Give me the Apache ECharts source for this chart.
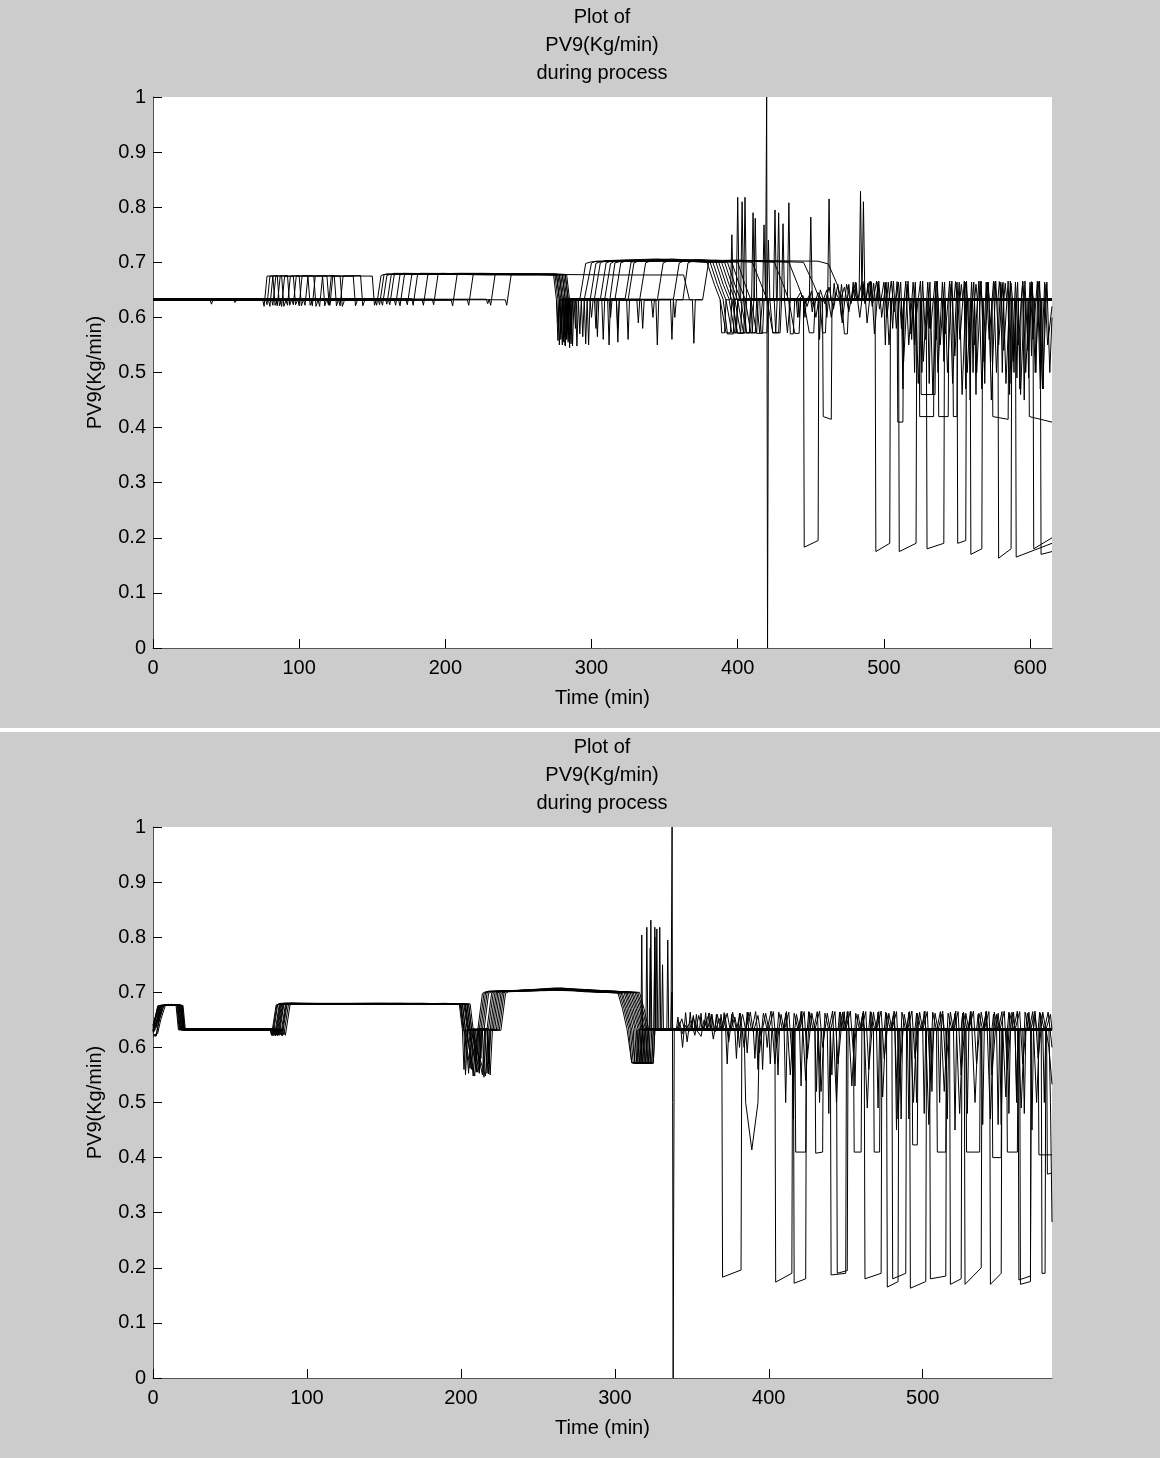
<!DOCTYPE html>
<html><head><meta charset="utf-8">
<script src="https://cdn.jsdelivr.net/npm/echarts@6/dist/echarts.min.js"></script>
<style>html,body{margin:0;padding:0;background:#fff}#c{width:1160px;height:1458px}</style>
</head><body><div id="c"></div>
<script>
// ---------- axis ranges / titles ----------
const topXRange = [0, 615];
const botXRange = [0, 584];
const yRange = [0, 1];
const titleLines = ['Plot of', 'PV9(Kg/min)', 'during process'];
const xName = 'Time (min)';
const yName = 'PV9(Kg/min)';

// ---------- top panel batches (time, PV9) ----------
const top01 = [[0,0.632],[39,0.632],[40,0.624],[41,0.632],[75,0.632],[76,0.62],[78,0.675],[82,0.675],[83.5,0.622],[85,0.632],[152,0.632],[153,0.622],[156,0.676],[158,0.678],[190,0.679],[230,0.677],[274,0.678],[276,0.632],[277,0.558],[278,0.632],[283,0.632],[284,0.575],[285,0.632],[292,0.633],[296,0.698],[300,0.701],[330,0.703],[355,0.704],[379,0.70],[384,0.66],[388,0.632],[392,0.572],[395,0.572],[396,0.632],[399,0.632],[400,0.818],[401,0.632],[409,0.632],[410,0.572],[412,0.572],[413,0.632],[445,0.632],[445.5,0.183],[455,0.195],[455.5,0.632],[488,0.632],[489,0.662],[490,0.632],[520,0.632],[521,0.55],[522,0.632],[548,0.632],[549,0.665],[550,0.632],[580,0.632],[581,0.5],[582,0.632],[600,0.632],[601,0.66],[602,0.632],[615,0.632]];
const top02 = [[0,0.633],[55,0.633],[56,0.627],[58,0.633],[77,0.633],[78,0.623],[80,0.675],[85,0.676],[86.5,0.621],[88,0.633],[154,0.633],[155,0.623],[158,0.677],[160,0.679],[200,0.678],[250,0.679],[275,0.677],[277,0.633],[278,0.55],[279,0.633],[282,0.633],[283,0.562],[284,0.633],[295,0.632],[300,0.699],[303,0.702],[340,0.705],[381,0.701],[386,0.66],[390,0.633],[393,0.57],[397,0.57],[398,0.633],[404,0.633],[405,0.818],[406,0.633],[415,0.633],[416,0.572],[420,0.572],[421,0.633],[458,0.633],[458.5,0.42],[464,0.415],[464.5,0.633],[495,0.633],[496,0.664],[497,0.633],[530,0.633],[531,0.58],[532,0.633],[559,0.633],[559.5,0.17],[567,0.18],[567.5,0.633],[590,0.633],[591,0.49],[592,0.633],[605,0.633],[606,0.665],[607,0.633],[615,0.633]];
const top03 = [[0,0.631],[79,0.631],[80,0.62],[82,0.675],[88,0.675],[89.5,0.62],[91,0.631],[156,0.631],[157,0.622],[160,0.676],[162,0.678],[210,0.68],[276,0.678],[278,0.631],[279,0.57],[280,0.631],[286,0.631],[287,0.548],[288,0.631],[299,0.631],[303,0.698],[306,0.701],[350,0.703],[383,0.70],[388,0.66],[392,0.631],[396,0.572],[399,0.572],[400,0.631],[409.5,0.631],[410.5,0.79],[411.5,0.631],[425,0.631],[426,0.572],[429,0.572],[430,0.631],[460,0.631],[461,0.6],[462,0.631],[494,0.631],[494.5,0.175],[504,0.19],[504.5,0.631],[515,0.631],[516,0.66],[517,0.631],[540,0.631],[541,0.52],[542,0.631],[570,0.631],[571,0.662],[572,0.631],[599,0.631],[599.5,0.42],[615,0.41]];
const top04 = [[0,0.634],[81,0.634],[82,0.622],[84,0.675],[92,0.676],[93.5,0.622],[95,0.634],[159,0.634],[160,0.624],[163,0.678],[165,0.68],[220,0.678],[276,0.679],[278,0.634],[279,0.56],[280,0.634],[288,0.634],[289,0.58],[290,0.634],[302,0.634],[306,0.699],[309,0.703],[345,0.706],[385,0.701],[390,0.66],[394,0.634],[398,0.572],[402,0.572],[403,0.634],[417,0.634],[418,0.768],[419,0.634],[440,0.634],[441,0.6],[442,0.634],[475,0.634],[476,0.66],[477,0.634],[509,0.634],[509.5,0.41],[513,0.41],[513.5,0.634],[535,0.634],[536,0.665],[537,0.634],[560,0.634],[561,0.5],[562,0.634],[580,0.634],[581,0.66],[582,0.634],[602,0.634],[602.5,0.18],[615,0.2]];
const top05 = [[0,0.632],[84,0.632],[85,0.621],[87,0.675],[96,0.675],[97.5,0.623],[99,0.632],[161,0.632],[162,0.623],[165,0.677],[167,0.679],[230,0.678],[277,0.678],[279,0.632],[280,0.55],[281,0.632],[291,0.632],[292,0.57],[293,0.632],[306,0.632],[310,0.699],[313,0.702],[360,0.703],[387,0.70],[392,0.66],[396,0.632],[400,0.571],[404,0.571],[405,0.632],[419,0.632],[419.8,1.0],[420.4,0.0],[421,0.632],[450,0.632],[451,0.61],[452,0.632],[480,0.632],[481,0.663],[482,0.632],[510,0.632],[510.5,0.175],[522,0.19],[522.5,0.632],[545,0.632],[546,0.66],[547,0.632],[568,0.632],[569,0.48],[570,0.632],[590,0.632],[590.5,0.165],[615,0.19]];
const top06 = [[0,0.633],[87,0.633],[88,0.62],[90,0.674],[100,0.676],[101.5,0.621],[103,0.633],[165,0.633],[166,0.622],[169,0.678],[171,0.68],[240,0.678],[278,0.677],[280,0.633],[281,0.565],[282,0.633],[295,0.633],[296,0.552],[297,0.633],[309,0.633],[313,0.698],[316,0.702],[370,0.704],[389,0.70],[394,0.66],[398,0.633],[402,0.572],[405,0.572],[406,0.633],[424.5,0.633],[425.5,0.795],[426.5,0.633],[435,0.633],[436,0.57],[438,0.57],[439,0.633],[470,0.633],[471,0.66],[472,0.633],[500,0.633],[501,0.55],[502,0.633],[524,0.633],[524.5,0.42],[534,0.42],[534.5,0.633],[555,0.633],[556,0.664],[557,0.633],[578,0.633],[578.5,0.163],[587,0.18],[587.5,0.633],[600,0.633],[601,0.53],[602,0.633],[615,0.633]];
const top07 = [[0,0.631],[91,0.631],[92,0.622],[94,0.675],[106,0.675],[107.5,0.622],[109,0.631],[168,0.631],[169,0.621],[172,0.677],[174,0.679],[225,0.68],[278,0.678],[280,0.631],[281,0.555],[282,0.631],[299,0.631],[300,0.6],[301,0.631],[312.5,0.631],[316,0.699],[319,0.701],[355,0.706],[391,0.70],[396,0.66],[400,0.631],[404,0.572],[408,0.572],[409,0.631],[427,0.631],[428,0.79],[429,0.631],[455,0.631],[456,0.56],[457,0.631],[490,0.631],[491,0.666],[492,0.631],[529,0.631],[529.5,0.18],[541,0.19],[541.5,0.631],[562,0.631],[563,0.66],[564,0.631],[585,0.631],[586,0.46],[587,0.631],[607,0.631],[607.5,0.17],[615,0.175]];
const top08 = [[0,0.632],[95,0.632],[96,0.623],[98,0.675],[110,0.675],[111.5,0.62],[113,0.632],[173,0.632],[174,0.623],[177,0.677],[179,0.679],[235,0.678],[279,0.677],[281,0.632],[282,0.548],[283,0.632],[303,0.632],[304,0.565],[305,0.632],[316,0.632],[320,0.699],[323,0.702],[365,0.703],[393,0.70],[398,0.66],[402,0.632],[406,0.572],[410,0.572],[411,0.632],[434,0.632],[435,0.808],[436,0.632],[465,0.632],[466,0.662],[467,0.632],[505,0.632],[506,0.58],[507,0.632],[547,0.632],[547.5,0.42],[550,0.42],[550.5,0.632],[575,0.632],[576,0.665],[577,0.632],[595,0.632],[596,0.45],[597,0.632],[610,0.632],[611,0.66],[612,0.632],[615,0.632]];
const top09 = [[0,0.634],[99,0.634],[100,0.621],[102,0.676],[116,0.675],[117.5,0.621],[119,0.634],[177,0.634],[178,0.622],[181,0.678],[183,0.68],[240,0.679],[280,0.678],[282,0.634],[283,0.57],[284,0.634],[311,0.634],[312,0.55],[313,0.634],[323,0.634],[327,0.7],[330,0.702],[375,0.705],[396,0.70],[401,0.66],[405,0.634],[409,0.572],[413,0.572],[414,0.634],[445,0.634],[446,0.6],[447,0.634],[485,0.634],[486,0.66],[487,0.634],[520,0.634],[521,0.5],[522,0.634],[550,0.634],[550.5,0.19],[556,0.195],[556.5,0.634],[574,0.634],[574.5,0.42],[585,0.415],[585.5,0.634],[600,0.634],[601,0.665],[602,0.634],[615,0.634]];
const top10 = [[0,0.632],[103,0.632],[104,0.622],[106,0.675],[119,0.675],[120.5,0.622],[122,0.632],[184,0.632],[185,0.622],[188,0.677],[190,0.679],[250,0.678],[281,0.678],[283,0.632],[284,0.555],[285,0.632],[317,0.632],[318,0.58],[319,0.632],[325,0.632],[329,0.699],[332,0.702],[380,0.703],[400,0.70],[405,0.66],[409,0.632],[413,0.571],[417,0.571],[418,0.632],[449,0.632],[450,0.782],[451,0.632],[478,0.632],[479,0.664],[480,0.632],[512,0.632],[513,0.47],[514,0.632],[525,0.632],[525.5,0.46],[535,0.46],[535.5,0.632],[552,0.632],[553,0.66],[554,0.632],[572,0.632],[573,0.52],[574,0.632],[594,0.632],[595,0.664],[596,0.632],[608,0.632],[609,0.47],[610,0.632],[615,0.632]];
const top11 = [[0,0.633],[108,0.633],[109,0.621],[111,0.675],[124,0.676],[125.5,0.621],[127,0.633],[191,0.633],[192,0.623],[195,0.678],[197,0.68],[250,0.677],[282,0.678],[284,0.633],[285,0.56],[286,0.633],[324,0.633],[325,0.56],[326,0.633],[333,0.633],[337,0.699],[340,0.702],[385,0.704],[410,0.70],[416,0.66],[420,0.633],[424,0.572],[428,0.572],[429,0.633],[461.5,0.633],[462.5,0.815],[463.5,0.633],[492,0.633],[493,0.662],[494,0.633],[518,0.633],[519,0.56],[520,0.633],[537,0.633],[537.5,0.42],[544,0.42],[544.5,0.633],[565,0.633],[566,0.665],[567,0.633],[588,0.633],[589,0.5],[590,0.633],[615,0.633]];
const top12 = [[0,0.631],[113,0.631],[114,0.62],[116,0.675],[128,0.675],[129.5,0.62],[131,0.631],[204,0.631],[205,0.621],[208,0.677],[210,0.679],[260,0.678],[283,0.677],[285,0.631],[286,0.552],[287,0.631],[334,0.631],[335,0.58],[336,0.631],[345,0.631],[349,0.699],[352,0.702],[400,0.703],[425,0.70],[431,0.66],[435,0.631],[439,0.571],[442,0.571],[443,0.631],[470,0.631],[471,0.6],[472,0.631],[483,0.631],[484,0.829],[485,0.631],[500,0.631],[501,0.663],[502,0.631],[530,0.631],[531,0.48],[532,0.631],[558,0.631],[559,0.45],[560,0.631],[582,0.631],[583,0.662],[584,0.631],[603,0.631],[604,0.5],[605,0.631],[615,0.631]];
const top13 = [[0,0.632],[120,0.632],[121,0.622],[123,0.675],[137,0.675],[138.5,0.621],[140,0.632],[215,0.632],[216,0.622],[219,0.677],[221,0.679],[270,0.678],[320,0.677],[363,0.677],[367,0.632],[369,0.632],[370,0.553],[371,0.632],[376,0.632],[380,0.699],[383,0.702],[410,0.703],[435,0.70],[441,0.66],[445,0.632],[449,0.572],[452,0.572],[453,0.632],[485,0.632],[486,0.81],[487,0.632],[508,0.632],[509,0.665],[510,0.632],[540,0.632],[541,0.55],[542,0.632],[570,0.632],[571,0.664],[572,0.632],[592,0.632],[593,0.47],[594,0.632],[615,0.632]];
const top14 = [[0,0.633],[119,0.633],[120,0.623],[122,0.675],[150,0.675],[151.5,0.622],[153,0.633],[228,0.633],[229,0.625],[230,0.633],[231,0.622],[234,0.677],[236,0.679],[280,0.678],[282,0.633],[283,0.56],[284,0.633],[344,0.633],[345,0.55],[346,0.633],[356,0.633],[360,0.699],[363,0.702],[400,0.704],[445,0.70],[452,0.66],[456,0.633],[458,0.572],[460,0.572],[461,0.633],[495,0.633],[496,0.66],[497,0.633],[525,0.633],[526,0.5],[527,0.633],[555,0.633],[556,0.47],[557,0.633],[578,0.633],[579,0.665],[580,0.633],[598,0.633],[599,0.49],[600,0.633],[615,0.633]];
const top15 = [[0,0.632],[127,0.632],[128,0.621],[130,0.675],[142,0.676],[143.5,0.621],[145,0.632],[241,0.632],[242,0.622],[245,0.677],[247,0.679],[282,0.678],[284,0.632],[285,0.545],[286,0.632],[354,0.632],[355,0.56],[356,0.632],[362.5,0.632],[366,0.699],[369,0.702],[420,0.703],[455,0.702],[462,0.697],[468,0.66],[471,0.632],[473,0.57],[475,0.57],[476,0.632],[502,0.632],[503,0.664],[504,0.632],[535,0.632],[536,0.56],[537,0.632],[562,0.632],[563,0.46],[564,0.632],[586,0.632],[587,0.662],[588,0.632],[606,0.632],[607,0.52],[608,0.632],[615,0.632]];
const topBurst = [[388,0.632],[389,0.572],[391,0.572],[392,0.632],[395,0.632],[396,0.75],[397,0.632],[398,0.632],[399,0.572],[400,0.632],[402,0.632],[403,0.81],[404,0.632],[406,0.572],[408,0.572],[409,0.632],[411,0.632],[412,0.78],[413,0.632],[415,0.572],[417,0.632],[420,0.632],[421,0.74],[422,0.632],[424,0.572],[426,0.572],[427,0.632],[430,0.632],[431,0.77],[432,0.632],[434,0.572],[436,0.632],[441,0.632],[442,0.6],[443,0.632]];
const topDips = [[276,0.632],[277,0.59],[278,0.632],[281,0.632],[282,0.55],[283,0.632],[285,0.632],[286,0.57],[287,0.632],[289,0.632],[290,0.548],[291,0.632],[293,0.632],[294,0.565],[295,0.632],[297,0.632],[298,0.55],[299,0.632],[302,0.632],[303,0.58],[304,0.632],[307,0.632],[308,0.56],[309,0.632],[312,0.632],[313,0.6],[314,0.632],[317,0.632],[318,0.555],[319,0.632],[331,0.632],[332,0.59],[333,0.632],[341,0.632],[342,0.6],[343,0.632],[356,0.632],[357,0.6],[358,0.632],[376,0.632]];
const topNoiseA = [[440,0.632],[443,0.645],[446,0.625],[449,0.64],[452,0.62],[455,0.645],[458,0.628],[461,0.65],[464,0.6],[467,0.645],[470,0.63],[473,0.655],[476,0.61],[479,0.655],[482,0.63],[485,0.664],[487,0.625],[490,0.665],[492,0.62],[495,0.666],[497,0.615],[500,0.664],[502,0.6],[505,0.666],[507,0.61],[510,0.664],[512,0.58],[515,0.666],[517,0.55],[520,0.664],[522,0.6],[525,0.666],[527,0.52],[530,0.664],[532,0.58],[535,0.666],[537,0.5],[540,0.664],[542,0.57],[545,0.666],[547,0.48],[550,0.664],[552,0.56],[555,0.666],[557,0.5],[560,0.664],[562,0.55],[565,0.666],[567,0.47],[570,0.664],[572,0.56],[575,0.666],[577,0.5],[580,0.664],[582,0.54],[585,0.666],[587,0.48],[590,0.664],[592,0.55],[595,0.666],[597,0.5],[600,0.664],[602,0.56],[605,0.666],[607,0.47],[610,0.664],[612,0.55],[615,0.62]];
const topNoiseB = [[441.5,0.632],[444.5,0.64],[447.5,0.62],[450.5,0.648],[453.5,0.6],[456.5,0.65],[459.5,0.625],[462.5,0.655],[465.5,0.615],[468.5,0.66],[471.5,0.59],[474.5,0.66],[477.5,0.625],[480.5,0.664],[483.5,0.6],[486.5,0.666],[488.5,0.59],[491.5,0.664],[493.5,0.57],[496.5,0.666],[498.5,0.6],[501.5,0.664],[503.5,0.55],[506.5,0.666],[508.5,0.58],[511.5,0.664],[513.5,0.52],[516.5,0.666],[518.5,0.57],[521.5,0.664],[523.5,0.48],[526.5,0.666],[528.5,0.56],[531.5,0.664],[533.5,0.46],[536.5,0.666],[538.5,0.55],[541.5,0.664],[543.5,0.5],[546.5,0.666],[548.5,0.53],[551.5,0.664],[553.5,0.46],[556.5,0.666],[558.5,0.55],[561.5,0.664],[563.5,0.5],[566.5,0.666],[568.5,0.52],[571.5,0.664],[573.5,0.45],[576.5,0.666],[578.5,0.55],[581.5,0.664],[583.5,0.48],[586.5,0.666],[588.5,0.52],[591.5,0.664],[593.5,0.46],[596.5,0.666],[598.5,0.54],[601.5,0.664],[603.5,0.5],[606.5,0.666],[608.5,0.47],[611.5,0.664],[613.5,0.5],[615,0.6]];

// ---------- bottom panel batches (aligned time, PV9) ----------
const bot01 = [[0,0.628],[2,0.64],[4,0.675],[10,0.677],[15.5,0.676],[17,0.632],[40,0.632],[76,0.632],[77,0.622],[80,0.677],[82,0.679],[120,0.678],[160,0.68],[199,0.678],[201,0.632],[202,0.56],[203.5,0.632],[211,0.632],[214,0.698],[216,0.701],[250,0.703],[266,0.707],[280,0.701],[302,0.699],[305,0.67],[308,0.632],[311,0.572],[314,0.572],[315,0.632],[317,0.632],[317.5,0.804],[318,0.632],[340,0.632],[341,0.655],[342,0.632],[369.5,0.632],[370,0.183],[382,0.196],[382.5,0.632],[410,0.632],[411,0.662],[412,0.632],[440,0.632],[441,0.55],[442,0.632],[476.5,0.632],[477,0.165],[484,0.175],[484.5,0.632],[510,0.632],[511,0.5],[512,0.632],[540,0.632],[541,0.664],[542,0.632],[565,0.632],[566,0.48],[567,0.632],[584,0.632]];
const bot02 = [[0,0.635],[3,0.65],[6,0.676],[12,0.677],[16.5,0.677],[18,0.633],[77,0.633],[78,0.621],[81,0.678],[83,0.68],[130,0.679],[170,0.68],[200,0.679],[202,0.633],[203,0.55],[204.5,0.633],[213,0.633],[216,0.699],[218,0.702],[255,0.704],[265,0.708],[290,0.701],[304,0.7],[307,0.67],[310,0.633],[312,0.571],[316,0.571],[317,0.633],[320.2,0.633],[320.8,0.818],[321.4,0.633],[352,0.633],[353,0.66],[354,0.633],[384,0.633],[385,0.5],[389,0.414],[393,0.5],[394,0.633],[420,0.633],[421,0.665],[422,0.633],[455,0.633],[456,0.53],[457,0.633],[491.5,0.633],[492,0.163],[502,0.175],[502.5,0.633],[525,0.633],[526,0.66],[527,0.633],[550,0.633],[551,0.46],[552,0.633],[575,0.633],[576,0.664],[577,0.633],[584,0.633]];
const bot03 = [[0,0.625],[2,0.62],[4,0.65],[7,0.676],[12,0.678],[17,0.676],[18.5,0.631],[78,0.631],[79,0.622],[82,0.677],[84,0.679],[140,0.679],[180,0.678],[201,0.678],[203,0.631],[205,0.553],[206.5,0.631],[215,0.631],[218,0.698],[220,0.701],[262,0.706],[270,0.704],[305,0.698],[308,0.67],[311,0.631],[313,0.572],[317,0.572],[318,0.631],[322.8,0.631],[323.4,0.831],[324,0.631],[360,0.631],[361,0.662],[362,0.631],[390,0.631],[391,0.58],[392,0.631],[404,0.631],[404.5,0.174],[415,0.19],[415.5,0.631],[445,0.631],[446,0.664],[447,0.631],[470,0.631],[471,0.49],[472,0.631],[504.5,0.631],[505,0.18],[515,0.185],[515.5,0.631],[535,0.631],[536,0.66],[537,0.631],[560,0.631],[561,0.52],[562,0.631],[584,0.631]];
const bot04 = [[0,0.632],[2,0.645],[5,0.676],[11,0.676],[17.5,0.677],[19,0.634],[79,0.634],[80,0.623],[83,0.678],[85,0.68],[150,0.678],[190,0.68],[202,0.678],[204,0.634],[207,0.56],[208.5,0.634],[209.5,0.634],[210,0.575],[211,0.634],[217,0.634],[220,0.699],[222,0.702],[258,0.705],[268,0.706],[307,0.7],[310,0.67],[313,0.634],[314,0.572],[318,0.572],[319,0.634],[325.4,0.634],[326,0.818],[326.6,0.634],[350,0.634],[351,0.658],[352,0.634],[380,0.634],[381,0.6],[382,0.634],[416,0.634],[416.5,0.172],[424,0.18],[424.5,0.634],[450,0.634],[451,0.665],[452,0.634],[485,0.634],[486,0.47],[487,0.634],[517.5,0.634],[518,0.17],[525,0.18],[525.5,0.634],[548,0.634],[549,0.662],[550,0.634],[570,0.634],[571,0.45],[572,0.634],[584,0.634]];
const bot05 = [[0,0.64],[1.5,0.655],[3,0.675],[10,0.678],[18,0.676],[19.5,0.632],[80,0.632],[81,0.621],[84,0.677],[86,0.679],[145,0.68],[203,0.679],[205,0.632],[208,0.548],[209.5,0.632],[211.5,0.632],[212,0.56],[213,0.632],[219,0.632],[222,0.698],[224,0.701],[260,0.705],[272,0.705],[308,0.699],[311,0.67],[314,0.632],[315,0.571],[320,0.571],[321,0.632],[326.7,0.632],[327.3,0.815],[327.9,0.632],[345,0.632],[346,0.663],[347,0.632],[372,0.632],[373,0.57],[374,0.632],[417,0.632],[417.5,0.41],[424,0.41],[424.5,0.632],[460,0.632],[461,0.66],[462,0.632],[495,0.632],[496,0.5],[497,0.632],[527,0.632],[527.5,0.17],[538,0.2],[538.5,0.632],[558,0.632],[559,0.664],[560,0.632],[578,0.632],[579,0.5],[580,0.632],[584,0.632]];
const bot06 = [[0,0.622],[3,0.625],[5,0.65],[8,0.676],[13,0.677],[18.5,0.677],[20,0.633],[81,0.633],[82,0.622],[85,0.678],[87,0.68],[135,0.678],[175,0.68],[204,0.678],[206,0.633],[210,0.555],[211.5,0.633],[214,0.633],[215,0.546],[216,0.633],[221,0.633],[224,0.699],[226,0.702],[255,0.703],[275,0.706],[310,0.7],[313,0.67],[316,0.633],[317,0.572],[321,0.572],[322,0.633],[328.6,0.633],[329.2,0.818],[329.8,0.633],[365,0.633],[366,0.66],[367,0.633],[395,0.633],[396,0.56],[397,0.633],[430,0.633],[430.5,0.408],[435,0.41],[435.5,0.633],[465,0.633],[466,0.665],[467,0.633],[500,0.633],[501,0.48],[502,0.633],[525,0.633],[526,0.662],[527,0.633],[543.5,0.633],[544,0.17],[551,0.19],[551.5,0.633],[572,0.633],[573,0.66],[574,0.633],[584,0.633]];
const bot07 = [[0,0.63],[2.5,0.66],[5,0.676],[12,0.676],[19,0.676],[20.5,0.631],[82,0.631],[83,0.623],[86,0.677],[88,0.679],[150,0.679],[205,0.678],[207,0.631],[212,0.553],[213.5,0.631],[217,0.631],[218,0.57],[219,0.631],[223,0.631],[226,0.698],[228,0.701],[265,0.705],[280,0.702],[312,0.699],[315,0.67],[318,0.631],[319,0.572],[323,0.572],[324,0.631],[333.8,0.631],[334.4,0.795],[335,0.631],[355,0.631],[356,0.662],[357,0.631],[385,0.631],[386,0.59],[387,0.631],[440,0.631],[440.5,0.187],[450,0.19],[450.5,0.631],[475,0.631],[476,0.664],[477,0.631],[505,0.631],[506,0.52],[507,0.631],[530,0.631],[531,0.66],[532,0.631],[548,0.631],[549,0.46],[550,0.631],[562,0.631],[562.5,0.178],[570,0.185],[570.5,0.631],[584,0.631]];
const bot08 = [[0,0.636],[2,0.66],[4,0.676],[11,0.677],[19.5,0.676],[21,0.632],[83,0.632],[84,0.621],[87,0.678],[89,0.68],[140,0.679],[185,0.679],[206,0.679],[208,0.632],[214,0.55],[215.5,0.632],[225,0.632],[228,0.699],[230,0.702],[262,0.708],[285,0.701],[314,0.7],[317,0.67],[320,0.632],[321,0.571],[324,0.571],[325,0.632],[330.4,0.632],[331,0.75],[331.6,0.632],[370,0.632],[371,0.663],[372,0.632],[405,0.632],[406,0.55],[407,0.632],[444,0.632],[444.5,0.19],[451,0.195],[451.5,0.632],[480,0.632],[481,0.66],[482,0.632],[515,0.632],[516,0.47],[517,0.632],[540,0.632],[541,0.665],[542,0.632],[563,0.632],[563.5,0.17],[570,0.175],[570.5,0.632],[584,0.632]];
const bot09 = [[0,0.62],[2,0.622],[6,0.676],[12,0.678],[16,0.677],[17.5,0.633],[84,0.633],[85,0.623],[88,0.678],[90,0.68],[150,0.679],[200,0.678],[202,0.633],[206,0.562],[207.5,0.633],[212,0.633],[215,0.698],[217,0.701],[258,0.704],[290,0.701],[303,0.699],[306,0.67],[309,0.633],[311,0.572],[315,0.572],[316,0.633],[322.4,0.633],[323,0.78],[323.6,0.633],[362,0.633],[363,0.66],[364,0.633],[398,0.633],[399,0.6],[400,0.633],[430,0.633],[431,0.52],[432,0.633],[455,0.633],[455.5,0.41],[460,0.41],[460.5,0.633],[490,0.633],[491,0.664],[492,0.633],[520,0.633],[521,0.45],[522,0.633],[545,0.633],[546,0.66],[547,0.633],[577,0.633],[577.5,0.19],[579.5,0.19],[580,0.633],[582,0.633],[583,0.5],[584,0.283]];
const bot10 = [[0,0.631],[2.5,0.66],[5,0.675],[10,0.677],[15,0.676],[16.5,0.632],[85,0.632],[86,0.622],[89,0.677],[91,0.679],[160,0.679],[201,0.679],[203,0.632],[209,0.548],[210.5,0.632],[214,0.632],[217,0.699],[219,0.702],[260,0.705],[295,0.7],[306,0.7],[309,0.67],[312,0.632],[313,0.571],[317,0.571],[318,0.632],[325.4,0.632],[326,0.8],[326.6,0.632],[348,0.632],[349,0.664],[350,0.632],[378,0.632],[379,0.58],[380,0.632],[410,0.632],[411,0.5],[412,0.632],[462,0.632],[462.5,0.18],[473,0.19],[473.5,0.632],[495,0.632],[496,0.662],[497,0.632],[528,0.632],[529,0.48],[530,0.632],[555,0.632],[556,0.664],[557,0.632],[580.5,0.632],[581,0.37],[584,0.372]];
const bot11 = [[0,0.638],[3,0.64],[7,0.676],[13,0.677],[17,0.677],[18.5,0.634],[78.5,0.634],[79.5,0.621],[82.5,0.678],[84.5,0.68],[145,0.679],[203,0.678],[205,0.634],[211,0.555],[212.5,0.634],[218,0.634],[221,0.699],[223,0.702],[266,0.707],[300,0.7],[309,0.699],[312,0.67],[315,0.634],[316,0.572],[319,0.572],[320,0.634],[336.4,0.634],[337,0.7],[337.6,0.634],[375,0.634],[376,0.66],[377,0.634],[420,0.634],[421,0.53],[422,0.634],[468,0.634],[468.5,0.41],[472,0.41],[472.5,0.634],[500,0.634],[501,0.665],[502,0.634],[528,0.634],[528.5,0.41],[537,0.41],[537.5,0.634],[560,0.634],[561,0.5],[562,0.634],[584,0.634]];
const bot12 = [[0,0.626],[2,0.635],[4.5,0.676],[11,0.677],[18,0.677],[19.5,0.632],[80.5,0.632],[81.5,0.623],[84.5,0.677],[86.5,0.679],[150,0.68],[204,0.678],[206,0.632],[216,0.548],[217.5,0.632],[220,0.632],[223,0.698],[225,0.701],[264,0.706],[300,0.701],[311,0.7],[314,0.67],[317,0.632],[318,0.571],[322,0.571],[323,0.632],[358,0.632],[359,0.663],[360,0.632],[392,0.632],[393,0.56],[394,0.632],[425,0.632],[426,0.665],[427,0.632],[480,0.632],[480.5,0.18],[489,0.19],[489.5,0.632],[512,0.632],[513,0.66],[514,0.632],[545,0.632],[545.5,0.40],[551,0.40],[551.5,0.632],[575,0.632],[575.5,0.405],[584,0.405]];
const bot13 = [[0,0.633],[3,0.645],[6,0.676],[12,0.678],[16,0.677],[17.5,0.633],[82.5,0.633],[83.5,0.622],[86.5,0.678],[88.5,0.68],[140,0.678],[205,0.679],[207,0.633],[212,0.633],[213,0.58],[214,0.633],[217,0.633],[218,0.552],[219.5,0.633],[222,0.633],[225,0.699],[227,0.702],[270,0.706],[300,0.702],[313,0.7],[316,0.67],[319,0.633],[320,0.572],[324,0.572],[325,0.633],[368,0.633],[369,0.66],[370,0.633],[400,0.633],[401,0.57],[402,0.633],[438,0.633],[439,0.48],[440,0.633],[470,0.633],[471,0.664],[472,0.633],[493,0.633],[493.5,0.423],[496.5,0.423],[497,0.633],[520,0.633],[521,0.662],[522,0.633],[554.5,0.633],[555,0.41],[561.5,0.41],[562,0.633],[580,0.633],[582,0.6],[584,0.533]];
const bot14 = [[0,0.629],[2,0.64],[5.5,0.675],[12,0.677],[19,0.676],[20.5,0.631],[76.5,0.631],[77.5,0.622],[80.5,0.677],[82.5,0.679],[130,0.679],[199.5,0.679],[201.5,0.631],[217.5,0.631],[219,0.55],[220.5,0.631],[226,0.631],[229,0.698],[231,0.701],[268,0.705],[300,0.702],[315,0.699],[318,0.67],[321,0.631],[322,0.572],[325,0.572],[326,0.631],[343,0.631],[344,0.6],[345,0.631],[380,0.631],[381,0.662],[382,0.631],[415,0.631],[416,0.47],[417,0.631],[448,0.631],[449,0.665],[450,0.631],[482,0.631],[483,0.45],[484,0.631],[509,0.631],[509.5,0.41],[515,0.41],[515.5,0.631],[538,0.631],[539,0.46],[540,0.631],[568,0.631],[569,0.664],[570,0.631],[584,0.631]];
const bot15 = [[0,0.64],[3.5,0.676],[10,0.678],[18.5,0.676],[20,0.632],[79.5,0.632],[80.5,0.622],[83.5,0.678],[85.5,0.68],[160,0.68],[202.5,0.679],[204.5,0.632],[215.5,0.632],[217,0.553],[218.5,0.632],[224,0.632],[227,0.699],[229,0.702],[262,0.707],[300,0.701],[316,0.7],[319,0.67],[322,0.632],[323,0.571],[325,0.571],[326,0.632],[336.5,0.632],[337.2,1.0],[337.9,0.0],[338.6,0.632],[346,0.632],[347,0.61],[348,0.632],[385,0.632],[386,0.664],[387,0.632],[432,0.632],[433,0.5],[434,0.632],[460,0.632],[461,0.662],[462,0.632],[490,0.632],[491,0.47],[492,0.632],[530,0.632],[531,0.665],[532,0.632],[555,0.632],[556,0.48],[557,0.632],[584,0.632]];
const botNoiseA = [[340,0.632],[342,0.645],[344,0.625],[346,0.64],[348,0.628],[351,0.655],[353,0.632],[356,0.62],[358,0.65],[360,0.632],[363,0.66],[365,0.628],[368,0.652],[370,0.632],[373,0.662],[375,0.63],[378,0.655],[380,0.625],[383,0.66],[385,0.632],[388,0.664],[390,0.628],[393,0.658],[395,0.62],[398,0.662],[400,0.632],[403,0.665],[405,0.6],[408,0.66],[410,0.63],[413,0.664],[415,0.59],[418,0.66],[420,0.632],[423,0.665],[425,0.58],[428,0.662],[430,0.632],[433,0.666],[435,0.6],[438,0.662],[440,0.63],[443,0.665],[445,0.57],[448,0.664],[450,0.632],[453,0.666],[455,0.59],[458,0.66],[460,0.63],[463,0.665],[465,0.56],[468,0.664],[470,0.632],[473,0.666],[475,0.58],[478,0.662],[480,0.632],[483,0.665],[485,0.55],[488,0.66],[490,0.63],[493,0.666],[495,0.58],[498,0.664],[500,0.632],[503,0.665],[505,0.54],[508,0.662],[510,0.632],[513,0.666],[515,0.56],[518,0.664],[520,0.63],[523,0.665],[525,0.55],[528,0.662],[530,0.632],[533,0.666],[535,0.57],[538,0.664],[540,0.632],[543,0.665],[545,0.55],[548,0.66],[550,0.63],[553,0.666],[555,0.56],[558,0.664],[560,0.632],[563,0.665],[565,0.57],[568,0.662],[570,0.63],[573,0.666],[575,0.58],[578,0.664],[580,0.632],[583,0.66],[584,0.632]];
const botNoiseB = [[341,0.632],[343.5,0.652],[345.5,0.63],[349.5,0.648],[352,0.622],[354.5,0.658],[357,0.632],[361.5,0.662],[364,0.615],[366.5,0.66],[369,0.632],[371.5,0.66],[374,0.61],[376.5,0.664],[379,0.632],[381.5,0.662],[384,0.6],[386.5,0.664],[389,0.63],[391.5,0.665],[394,0.59],[396.5,0.662],[399,0.632],[401.5,0.666],[404,0.57],[406.5,0.664],[409,0.63],[411.5,0.665],[414,0.55],[416.5,0.662],[419,0.632],[421.5,0.666],[424,0.54],[426.5,0.664],[429,0.63],[431.5,0.665],[434,0.52],[436.5,0.662],[439,0.632],[441.5,0.666],[444,0.5],[446.5,0.664],[449,0.63],[451.5,0.665],[454,0.53],[456.5,0.662],[459,0.632],[461.5,0.666],[464,0.49],[466.5,0.664],[469,0.63],[471.5,0.665],[474,0.51],[476.5,0.662],[479,0.632],[481.5,0.666],[484,0.47],[486.5,0.664],[489,0.63],[491.5,0.665],[494,0.5],[496.5,0.662],[499,0.632],[501.5,0.666],[504,0.46],[506.5,0.664],[509,0.63],[511.5,0.665],[514,0.52],[516.5,0.662],[519,0.632],[521.5,0.666],[524,0.48],[526.5,0.664],[529,0.63],[531.5,0.665],[534,0.5],[536.5,0.662],[539,0.632],[541.5,0.666],[544,0.47],[546.5,0.664],[549,0.63],[551.5,0.665],[554,0.51],[556.5,0.662],[559,0.632],[561.5,0.666],[564,0.49],[566.5,0.664],[569,0.63],[571.5,0.665],[574,0.5],[576.5,0.662],[579,0.632],[581.5,0.664],[584,0.6]];

const topSeries = [top01,top02,top03,top04,top05,top06,top07,top08,top09,top10,top11,top12,top13,top14,top15,topBurst,topDips,topNoiseA,topNoiseB];
const botSeries = [bot01,bot02,bot03,bot04,bot05,bot06,bot07,bot08,bot09,bot10,bot11,bot12,bot13,bot14,bot15,botNoiseA,botNoiseB];

// ---------- chart ----------
const FONT = "'Liberation Sans', Arial, Helvetica, sans-serif";
const chart = echarts.init(document.getElementById('c'), null, {renderer: 'canvas'});

function mkX(idx, range) {
  return {
    gridIndex: idx, type: 'value', min: range[0], max: range[1], interval: 100,
    axisLine: {show: true, onZero: false, lineStyle: {color: '#555', width: 1}},
    axisTick: {show: true, inside: true, length: 9, lineStyle: {color: '#000', width: 1}},
    axisLabel: {color: '#000', fontSize: 20, fontFamily: FONT, margin: 10, showMaxLabel: false},
    splitLine: {show: false},
    name: xName, nameLocation: 'middle', nameGap: 40,
    nameTextStyle: {color: '#000', fontSize: 20, fontFamily: FONT}
  };
}
function mkY(idx) {
  return {
    gridIndex: idx, type: 'value', min: yRange[0], max: yRange[1], interval: 0.1,
    axisLine: {show: true, onZero: false, lineStyle: {color: '#555', width: 1}},
    axisTick: {show: true, inside: true, length: 9, lineStyle: {color: '#000', width: 1}},
    axisLabel: {color: '#000', fontSize: 20, fontFamily: FONT, margin: 7,
      formatter: v => String(Math.round(v * 10) / 10)},
    splitLine: {show: false},
    name: yName, nameLocation: 'middle', nameGap: 48, nameRotate: 90,
    nameTextStyle: {color: '#000', fontSize: 20, fontFamily: FONT}
  };
}
function mkSeries(list, idx) {
  return list.map(d => ({
    type: 'line', xAxisIndex: idx, yAxisIndex: idx, data: d,
    symbol: 'none', showSymbol: false, silent: true, animation: false,
    lineStyle: {color: '#000', width: 1}, clip: true
  }));
}
function titleText(yTop) {
  return titleLines.map((t, i) => ({
    type: 'text', x: 602, y: yTop + i * 28, silent: true,
    style: {text: t, fill: '#000', font: '20px ' + FONT, textAlign: 'center', textVerticalAlign: 'middle'}
  }));
}

const option = {
  backgroundColor: '#cccccc',
  animation: false,
  grid: [
    {left: 153, top: 97, width: 899, height: 551, show: true, backgroundColor: '#ffffff', borderWidth: 0},
    {left: 153, top: 827, width: 899, height: 551, show: true, backgroundColor: '#ffffff', borderWidth: 0}
  ],
  xAxis: [mkX(0, topXRange), mkX(1, botXRange)],
  yAxis: [mkY(0), mkY(1)],
  graphic: [
    {type: 'rect', shape: {x: 0, y: 728, width: 1160, height: 4}, style: {fill: '#ffffff'}, silent: true}
  ].concat(titleText(17), titleText(747)),
  series: mkSeries(topSeries, 0).concat(mkSeries(botSeries, 1))
};
chart.setOption(option);
</script>
</body></html>
